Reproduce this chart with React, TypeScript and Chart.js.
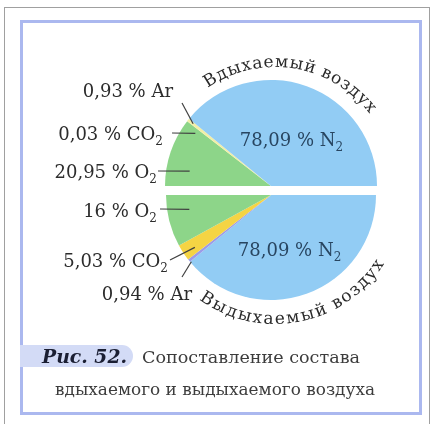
import React, { useEffect, useRef } from "react";
import { Chart, registerables } from "chart.js";

Chart.register(...registerables);

// ---------- data ----------
const gasFormulas = ["O2", "CO2", "Ar", "N2"];
const inhaledPercent = [20.95, 0.03, 0.93, 78.09];
const exhaledPercent = [16, 5.03, 0.94, 78.09];
const inhaledTitle = "Вдыхаемый воздух";
const exhaledTitle = "Выдыхаемый воздух";
const figureTag = "Рис. 52.";
const captionLines = ["Сопоставление состава", "вдыхаемого и выдыхаемого воздуха"];

// ---------- styles / layout ----------
const inhaledColors = ["#8dd589", "#f1e27c", "#f2eea6", "#92ccf4"];
const exhaledColors = ["#8dd589", "#f5d444", "#9c9ce8", "#92ccf4"];
const SERIF = '"DejaVu Serif", "Liberation Serif", serif';
const LABEL_COLOR = "#2c2c2c";
const INNER_COLOR = "#284560";
const TITLE_COLOR = "#2a2a2a";
const W = 431;
const H = 424;

// chart areas (page pixels) for the two half discs
const topPadding = { left: 165, top: 80, right: W - 377, bottom: H - 186 };
const botPadding = { left: 166, top: 195, right: W - 376, bottom: H - 300 };

type SideLayout = { x: number; y: number; from: [number, number]; dA: number; rf: number };
type InnerLayout = { dA: number; rf: number };

// layout of outer labels per gas index (O2, CO2, Ar); N2 is inside
const topSide: SideLayout[] = [
  { x: 157, y: 178, from: [158, 171], dA: -8.5, rf: 0.78 },
  { x: 163, y: 140, from: [172, 133], dA: -2.9, rf: 0.87 },
  { x: 173, y: 97, from: [182, 103], dA: 0, rf: 0.94 },
];
const botSide: SideLayout[] = [
  { x: 157, y: 217, from: [160, 209], dA: 4.4, rf: 0.79 },
  { x: 168, y: 267, from: [170, 260], dA: -1.2, rf: 0.88 },
  { x: 192, y: 300, from: [182, 277], dA: -1.3, rf: 0.99 },
];
const topInner: InnerLayout = { dA: 4, rf: 0.48 };
const botInner: InnerLayout = { dA: 1, rf: 0.55 };

const fmt = (v: number) =>
  Number.isInteger(v) ? String(v) : v.toFixed(2).replace(".", ",");

type Part = { t: string; sub: boolean };
function formulaParts(prefix: string, formula: string): Part[] {
  const out: Part[] = [{ t: prefix, sub: false }];
  for (const ch of formula) {
    const sub = /[0-9]/.test(ch);
    const last = out[out.length - 1];
    if (last.sub === sub) last.t += ch;
    else out.push({ t: ch, sub });
  }
  return out;
}

function drawRich(
  ctx: CanvasRenderingContext2D,
  parts: Part[],
  x: number,
  y: number,
  align: "left" | "right" | "center",
  size: number,
  color: string
) {
  const mainF = `${size}px ${SERIF}`;
  const subF = `${Math.round(size * 0.66)}px ${SERIF}`;
  ctx.save();
  ctx.fillStyle = color;
  ctx.textAlign = "left";
  ctx.textBaseline = "alphabetic";
  const ws = parts.map((p) => {
    ctx.font = p.sub ? subF : mainF;
    return ctx.measureText(p.t).width;
  });
  const total = ws.reduce((a, b) => a + b, 0);
  let cx = align === "right" ? x - total : align === "center" ? x - total / 2 : x;
  parts.forEach((p, i) => {
    ctx.font = p.sub ? subF : mainF;
    ctx.fillText(p.t, cx, p.sub ? y + size * 0.28 : y);
    cx += ws[i];
  });
  ctx.restore();
}

function drawFitted(
  ctx: CanvasRenderingContext2D,
  text: string,
  x: number,
  y: number,
  width: number,
  font: string,
  color: string
) {
  ctx.save();
  ctx.font = font;
  ctx.fillStyle = color;
  ctx.textAlign = "left";
  ctx.textBaseline = "alphabetic";
  const w = ctx.measureText(text).width;
  ctx.translate(x, y);
  ctx.scale(width / w, 1);
  ctx.fillText(text, 0, 0);
  ctx.restore();
}

function drawArcText(
  ctx: CanvasRenderingContext2D,
  text: string,
  cx: number,
  cy: number,
  rBase: number,
  a0deg: number,
  a1deg: number,
  outward: boolean,
  font: string,
  color: string
) {
  ctx.save();
  ctx.font = font;
  ctx.fillStyle = color;
  ctx.textAlign = "center";
  ctx.textBaseline = "alphabetic";
  const chars = Array.from(text);
  const widths = chars.map((c) => ctx.measureText(c).width);
  const centers: number[] = [];
  let acc = 0;
  widths.forEach((w) => {
    centers.push(acc + w / 2);
    acc += w;
  });
  const s0 = centers[0];
  const s1 = centers[centers.length - 1];
  const a0 = (a0deg * Math.PI) / 180;
  const a1 = (a1deg * Math.PI) / 180;
  chars.forEach((c, i) => {
    const t = (centers[i] - s0) / (s1 - s0);
    const a = a0 + (a1 - a0) * t;
    ctx.save();
    ctx.translate(cx + rBase * Math.cos(a), cy + rBase * Math.sin(a));
    ctx.rotate(outward ? a + Math.PI / 2 : a - Math.PI / 2);
    ctx.fillText(c, 0, 0);
    ctx.restore();
  });
  ctx.restore();
}

function arcGeom(chart: any, dataIndex: number) {
  const el = chart.getDatasetMeta(0).data[dataIndex];
  const p = el.getProps(["x", "y", "startAngle", "endAngle", "outerRadius"], true);
  return p as { x: number; y: number; startAngle: number; endAngle: number; outerRadius: number };
}

function labelPlugin(
  id: string,
  values: number[],
  order: number[],
  side: SideLayout[],
  inner: InnerLayout,
  title: string,
  titleArc: { r: number; a0: number; a1: number; outward: boolean },
  withCaption: boolean
) {
  return {
    id,
    afterDraw(chart: any) {
      const ctx: CanvasRenderingContext2D = chart.ctx;
      let center = { x: 0, y: 0 };
      order.forEach((gas, dataIndex) => {
        const g = arcGeom(chart, dataIndex);
        center = { x: g.x, y: g.y };
        const mid = (g.startAngle + g.endAngle) / 2;
        const parts = formulaParts(`${fmt(values[gas])} % `, gasFormulas[gas]);
        if (gas < 3) {
          const L = side[gas];
          const a = mid + (L.dA * Math.PI) / 180;
          const ex = g.x + g.outerRadius * L.rf * Math.cos(a);
          const ey = g.y + g.outerRadius * L.rf * Math.sin(a);
          ctx.save();
          ctx.strokeStyle = "#404040";
          ctx.lineWidth = 1.2;
          ctx.beginPath();
          ctx.moveTo(L.from[0], L.from[1]);
          ctx.lineTo(ex, ey);
          ctx.stroke();
          ctx.restore();
          drawRich(ctx, parts, L.x, L.y, "right", 18, LABEL_COLOR);
        } else {
          const a = mid + (inner.dA * Math.PI) / 180;
          const px = g.x + g.outerRadius * inner.rf * Math.cos(a);
          const py = g.y + g.outerRadius * inner.rf * Math.sin(a);
          drawRich(ctx, parts, px, py + 6.5, "center", 18, INNER_COLOR);
        }
      });
      drawArcText(
        ctx,
        title,
        center.x + 4,
        center.y,
        titleArc.r,
        titleArc.a0,
        titleArc.a1,
        titleArc.outward,
        `17px ${SERIF}`,
        TITLE_COLOR
      );
      if (withCaption) {
        // caption tab
        ctx.save();
        ctx.fillStyle = "#d3dbf6";
        const x0 = 20, y0 = 345, x1 = 133, y1 = 367, r = 11;
        ctx.beginPath();
        ctx.moveTo(x0, y0);
        ctx.lineTo(x1 - r, y0);
        ctx.arcTo(x1, y0, x1, y0 + r, r);
        ctx.arcTo(x1, y1, x1 - r, y1, r);
        ctx.lineTo(x0, y1);
        ctx.closePath();
        ctx.fill();
        ctx.restore();
        drawFitted(ctx, figureTag, 42, 363, 85, `italic bold 18px ${SERIF}`, "#1b1f33");
        drawFitted(ctx, captionLines[0], 142, 363, 218, `17px ${SERIF}`, "#3c3c3c");
        drawFitted(ctx, captionLines[1], 55, 395, 320, `17px ${SERIF}`, "#3c3c3c");
      }
    },
  };
}

function pieConfig(values: number[], colors: string[], order: number[], rotation: number, padding: any, plugin: any) {
  return {
    type: "pie" as const,
    data: {
      labels: order.map((i) => gasFormulas[i]),
      datasets: [
        {
          data: order.map((i) => values[i]),
          backgroundColor: order.map((i) => colors[i]),
          borderWidth: 0,
          hoverOffset: 0,
        },
      ],
    },
    options: {
      responsive: false,
      animation: false as const,
      devicePixelRatio: 1,
      rotation,
      circumference: 180,
      events: [],
      layout: { padding },
      plugins: { legend: { display: false }, tooltip: { enabled: false } },
    },
    plugins: [plugin],
  };
}

export default function App() {
  const topRef = useRef<HTMLCanvasElement>(null);
  const botRef = useRef<HTMLCanvasElement>(null);

  useEffect(() => {
    const topOrder = [0, 1, 2, 3];
    const botOrder = [3, 2, 1, 0];
    const topChart = new Chart(
      topRef.current!,
      pieConfig(
        inhaledPercent,
        inhaledColors,
        topOrder,
        -90,
        topPadding,
        labelPlugin("topLabels", inhaledPercent, topOrder, topSide, topInner, inhaledTitle,
          { r: 119, a0: -121.5, a1: -39.7, outward: true }, false)
      ) as any
    );
    const botChart = new Chart(
      botRef.current!,
      pieConfig(
        exhaledPercent,
        exhaledColors,
        botOrder,
        90,
        botPadding,
        labelPlugin("botLabels", exhaledPercent, botOrder, botSide, botInner, exhaledTitle,
          { r: 129, a0: 123.3, a1: 34.4, outward: false }, true)
      ) as any
    );
    return () => {
      topChart.destroy();
      botChart.destroy();
    };
  }, []);

  return (
    <div style={{ position: "absolute", left: 0, top: 0, width: W, height: H, background: "#fff", overflow: "hidden" }}>
      <div
        style={{
          position: "absolute",
          left: 4,
          top: 7,
          width: 424,
          height: 440,
          borderLeft: "1px solid #a0a0a0",
          borderTop: "1px solid #a0a0a0",
          borderRight: "1px solid #a0a0a0",
        }}
      />
      <div
        style={{
          position: "absolute",
          left: 20,
          top: 20,
          width: 396,
          height: 389,
          border: "3px solid #abb8ef",
        }}
      />
      <canvas ref={botRef} width={W} height={H} style={{ position: "absolute", left: 0, top: 0 }} />
      <canvas ref={topRef} width={W} height={H} style={{ position: "absolute", left: 0, top: 0 }} />
    </div>
  );
}
